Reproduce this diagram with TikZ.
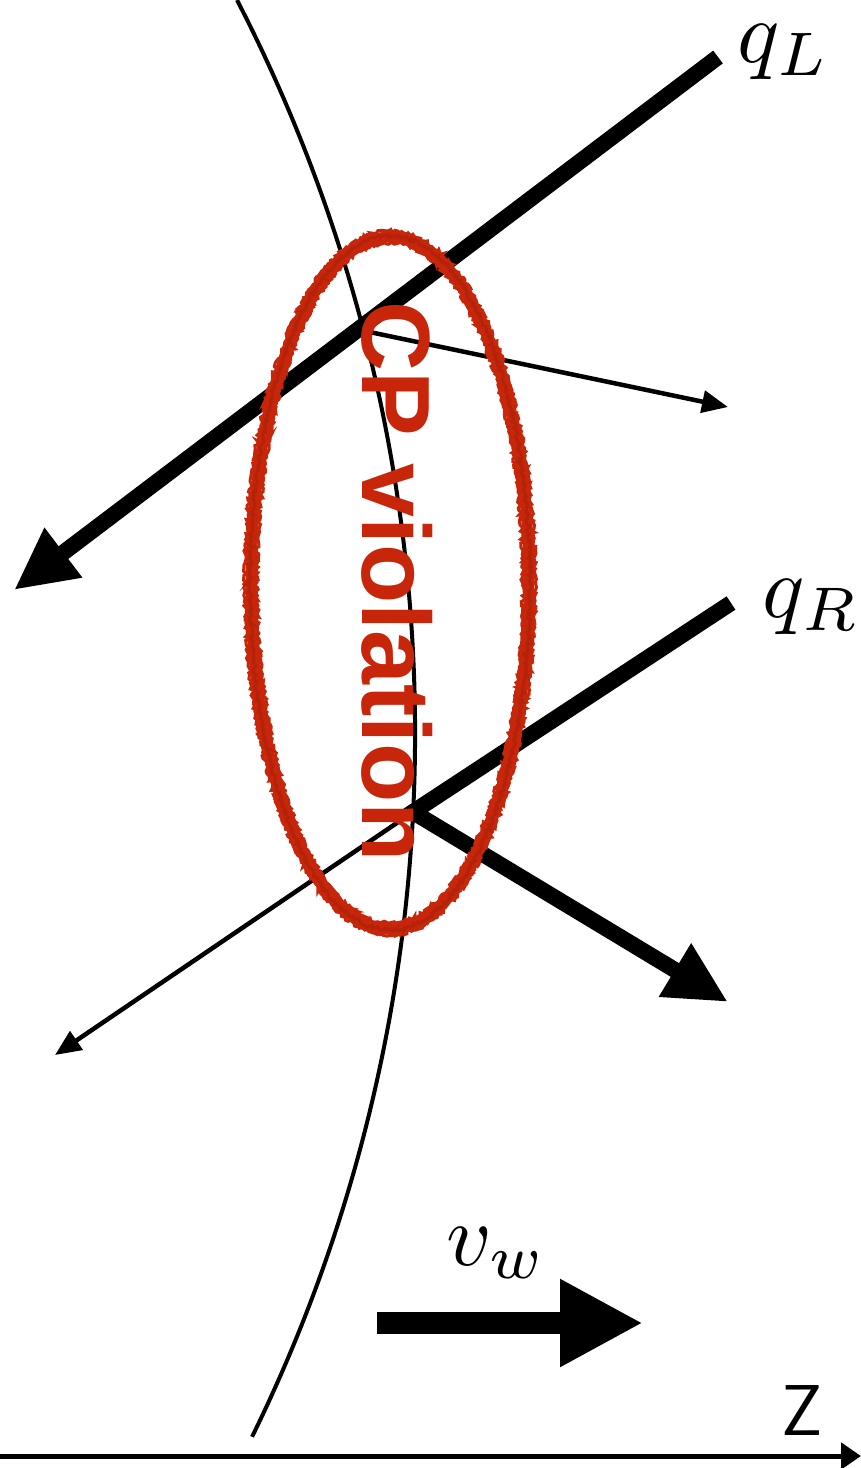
\documentclass[tikz,border=0pt]{standalone}
\usepackage{fontspec}
\newfontfamily\cpfont{Liberation Sans}
\usetikzlibrary{arrows.meta,decorations.pathmorphing}
\definecolor{cpred}{RGB}{200,38,10}
\tikzset{
  thickarrow/.style={line width=16pt, -{Triangle[length=62pt,width=58pt]}},
  thinarrow/.style={line width=4.5pt, -{Triangle[length=26pt,width=22pt]}},
  mathlabel/.style={inner sep=0pt, anchor=base west, scale=8.8},
  chalk/.style={cpred, line width=3pt, decorate, decoration={random steps, segment length=2pt, amplitude=1.6pt}},
}
\begin{document}
\begin{tikzpicture}[x=1pt,y=-1pt]
\useasboundingbox (0,0) rectangle (861,1468);
% wall
\draw[line width=4pt] (237,0) arc[start angle=-27.3, end angle=26.1, radius=1599];
% coordinates
\coordinate (qLs) at (718,57);
\coordinate (qLt) at (14,590);
\coordinate (V1) at (360,330);
\coordinate (t1) at (728,407);
\coordinate (qRs) at (731,603);
\coordinate (V2) at (413,812);
\coordinate (qRt) at (728,1002);
\coordinate (t2) at (55,1055);
\coordinate (vw0) at (377,1323);
\coordinate (vw1) at (643,1323);
\coordinate (ax0) at (0,1456);
\coordinate (ax1) at (861,1456);
\coordinate (ec) at (390,583);
% q_L
\draw[thickarrow] (qLs) -- (qLt);
\draw[thinarrow] (V1) -- (t1);
% q_R
\draw[thinarrow] (V2) -- (t2);
\draw[thickarrow] (qRs) -- (V2) -- (qRt);
% ellipse (chalk stroke)
\draw[cpred, line width=11pt] (ec) ellipse [x radius=139, y radius=346];
\draw[chalk] (ec) ellipse [x radius=145, y radius=352];
\draw[chalk] (ec) ellipse [x radius=133, y radius=340];
\draw[chalk, cpred!90!black] (ec) ellipse [x radius=140, y radius=347];
\node[cpred, rotate=-90, inner sep=0pt, font=\cpfont\bfseries\fontsize{97}{110}\selectfont] (cp) at (397,582) {CP violation};
% v_w arrow
\draw[line width=22pt, -{Triangle[length=83pt,width=82pt]}] (vw0) -- (vw1);
% axis
\draw[line width=5pt, -{Triangle[length=20pt,width=26pt]}] (ax0) -- (ax1);
% labels
\node[mathlabel] (qL) at (736,62) {$q_L$};
\node[mathlabel] (qR) at (761,617) {$q_R$};
\node[mathlabel] (vw) at (445,1265) {$v_w$};
\node[inner sep=0pt, anchor=base west, font=\sffamily\fontsize{72}{80}\selectfont] (z) at (781,1435) {Z};
\end{tikzpicture}
\end{document}
